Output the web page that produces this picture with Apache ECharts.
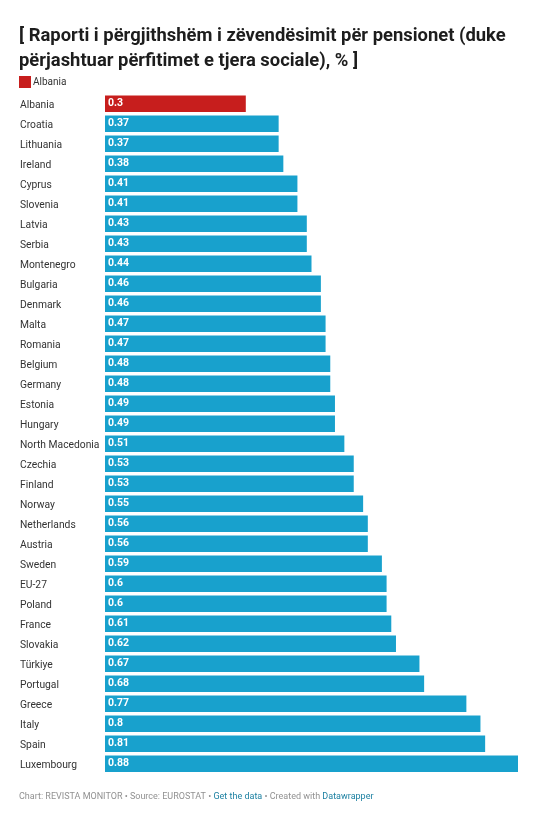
<!DOCTYPE html>
<html style="height: 100%">
<head>
	<meta charset="utf-8">
</head>
<body style="height: 100%; margin: 0; background: #fff">
<div id="container" style="height: 100%"></div>
<script type="text/javascript" src="https://cdn.jsdelivr.net/npm/echarts@6/dist/echarts.min.js"></script>
<script type="text/javascript">
    var countries = ['Albania', 'Croatia', 'Lithuania', 'Ireland', 'Cyprus', 'Slovenia', 'Latvia', 'Serbia',
        'Montenegro', 'Bulgaria', 'Denmark', 'Malta', 'Romania', 'Belgium', 'Germany', 'Estonia', 'Hungary',
        'North Macedonia', 'Czechia', 'Finland', 'Norway', 'Netherlands', 'Austria', 'Sweden', 'EU-27',
        'Poland', 'France', 'Slovakia', 'Türkiye', 'Portugal', 'Greece', 'Italy', 'Spain', 'Luxembourg'];
    var ratios = [0.3, 0.37, 0.37, 0.38, 0.41, 0.41, 0.43, 0.43, 0.44, 0.46, 0.46, 0.47, 0.47, 0.48, 0.48,
        0.49, 0.49, 0.51, 0.53, 0.53, 0.55, 0.56, 0.56, 0.59, 0.6, 0.6, 0.61, 0.62, 0.67, 0.68, 0.77, 0.8,
        0.81, 0.88];
    var highlight = 'Albania';

    var BLUE = '#18a1cd';
    var RED = '#c71e1d';

    var dom = document.getElementById('container');
    var myChart = echarts.init(dom);

    var barData = [];
    for (var i = 0; i < countries.length; i++) {
        barData.push({
            value: ratios[i],
            itemStyle: {color: countries[i] === highlight ? RED : BLUE}
        });
    }

    var option = {
        backgroundColor: '#fff',
        textStyle: {fontFamily: 'Roboto'},
        animation: false,
        title: {
            text: '[ Raporti i përgjithshëm i zëvendësimit për pensionet (duke\npërjashtuar përfitimet e tjera sociale), % ]',
            left: 14,
            top: 19,
            textStyle: {
                fontFamily: 'Roboto',
                fontSize: 18.4,
                fontWeight: 'bold',
                color: '#1d1d1d',
                lineHeight: 25
            }
        },
        legend: {
            data: ['Albania'],
            left: 14,
            top: 71,
            itemWidth: 12,
            itemHeight: 12,
            itemGap: 4,
            icon: 'rect',
            selectedMode: false,
            textStyle: {fontSize: 10, color: '#333', padding: [0, 0, 0, -3]}
        },
        grid: {
            left: 105,
            right: 19,
            top: 95,
            bottom: 40,
            containLabel: false
        },
        xAxis: {
            type: 'value',
            min: 0,
            max: 0.88,
            show: false
        },
        yAxis: {
            type: 'category',
            data: countries,
            inverse: true,
            axisLine: {show: false},
            axisTick: {show: false},
            axisLabel: {
                align: 'left',
                margin: 85,
                fontSize: 10.3,
                color: '#333'
            }
        },
        series: [
            {
                name: 'ratio',
                type: 'bar',
                data: barData,
                barWidth: 16.5,
                label: {
                    show: true,
                    position: 'insideLeft',
                    distance: 3,
                    color: '#fff',
                    fontWeight: 'bold',
                    fontSize: 10.5
                }
            },
            {
                name: 'Albania',
                type: 'bar',
                data: [],
                itemStyle: {color: RED}
            }
        ],
        graphic: [{
            type: 'text',
            left: 19,
            top: 792,
            style: {
                rich: {
                    g: {fill: '#919191', fontSize: 9, fontFamily: 'Roboto'},
                    b: {fill: '#1d81a2', fontSize: 9, fontFamily: 'Roboto'}
                },
                text: '{g|Chart: REVISTA MONITOR • Source: EUROSTAT • }{b|Get the data}{g| • Created with }{b|Datawrapper}'
            }
        }]
    };

    myChart.setOption(option);

    window.addEventListener('resize', function () {
        myChart.resize();
    });
</script>
</body>
</html>
